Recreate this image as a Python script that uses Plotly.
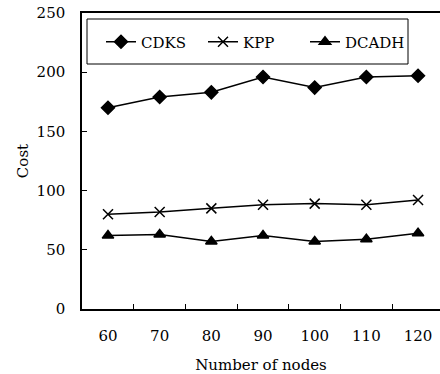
import plotly.graph_objects as go

nodes = ["60", "70", "80", "90", "100", "110", "120"]
cdks = [170, 179, 183, 196, 187, 196, 197]
kpp = [80, 82, 85, 88, 89, 88, 92]
dcadh = [62, 63, 57, 62, 57, 59, 64]
y_ticks = [0, 50, 100, 150, 200, 250]

FONT = "DejaVu Serif"
FS = 15
fig = go.Figure()
series = [("CDKS", cdks, "diamond", 10), ("KPP", kpp, "x-thin", 10), ("DCADH", dcadh, "triangle-up", 10)]
for name, vals, sym, sz in series:
    fig.add_trace(go.Scatter(
        x=nodes, y=vals, name=name, mode="lines+markers",
        line=dict(color="black", width=1.5),
        marker=dict(symbol=sym, size=sz, color="black",
                    line=dict(color="black", width=1.5)),
    ))

W, H = 440, 374
left, top, bottom = 82, 13, 309
pw, ph = W - left, bottom - top
fig.update_layout(
    width=W, height=H,
    margin=dict(l=left, r=0, t=top, b=H - bottom, autoexpand=False),
    paper_bgcolor="white", plot_bgcolor="white",
    font=dict(family=FONT, size=FS, color="black"),
    showlegend=True,
    legend=dict(orientation="h", x=(101 - left) / pw, y=(bottom - 42) / ph,
                xanchor="left", yanchor="middle",
                bgcolor="rgba(0,0,0,0)", borderwidth=0,
                entrywidth=57, entrywidthmode="pixels",
                font=dict(family=FONT, size=FS)),
    shapes=[dict(type="rect", xref="paper", yref="paper",
                 x0=(87 - left) / pw, x1=(408 - left) / pw,
                 y0=(bottom - 64) / ph, y1=(bottom - 19) / ph,
                 line=dict(color="black", width=1), fillcolor="rgba(0,0,0,0)")],
)
fig.update_xaxes(
    type="category", range=[-0.503, 6.425], automargin=False,
    tickson="boundaries", ticks="inside", ticklen=5, tickcolor="black",
    showline=True, linecolor="black", linewidth=1.5, mirror=True,
    showgrid=False, zeroline=False, ticklabelstandoff=12,
    title=dict(text="Number of nodes", font=dict(family=FONT, size=FS), standoff=16),
    tickfont=dict(family=FONT, size=FS),
)
fig.update_yaxes(
    range=[0, 250], tickvals=y_ticks, ticks="inside", ticklen=5, tickcolor="black",
    showline=True, linecolor="black", linewidth=1.5, automargin=False,
    showgrid=False, zeroline=False, ticklabelstandoff=12,
    ticklabeloverflow="allow",
    title=dict(text="Cost", font=dict(family=FONT, size=FS), standoff=4),
    tickfont=dict(family=FONT, size=FS),
)
fig.write_html("out.html", config={"displayModeBar": False},
               post_script="document.body.style.margin='0';")
